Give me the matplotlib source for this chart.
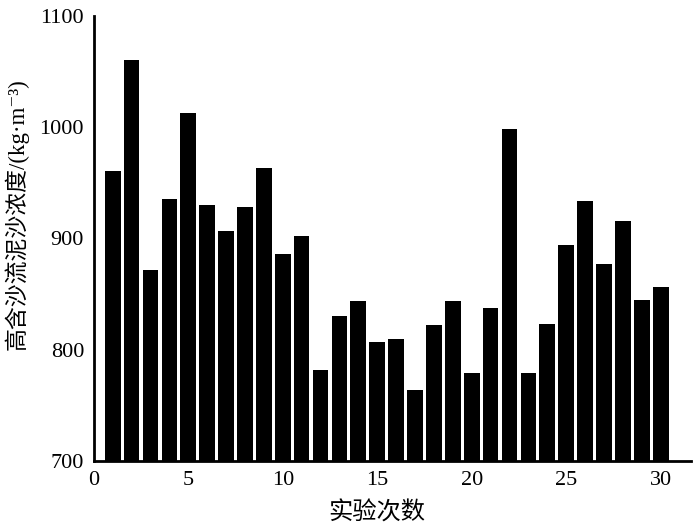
import matplotlib
matplotlib.use("Agg")
import matplotlib.pyplot as plt

runs = list(range(1, 31))
concentration = [961, 1060, 872, 935, 1013, 930, 907, 928, 963, 886,
                 902, 782, 830, 844, 807, 810, 764, 822, 844, 779,
                 837, 998, 779, 823, 894, 934, 877, 916, 845, 856]
xticks = [0, 5, 10, 15, 20, 25, 30]
yticks = [700, 800, 900, 1000, 1100]

plt.rcParams['font.family'] = ['Liberation Serif', 'Noto Sans CJK SC', 'DejaVu Serif']

fig = plt.figure(figsize=(7, 5.28), dpi=100)
ax = fig.add_axes([0.134, 0.127, 0.853, 0.843])
ax.bar(runs, concentration, width=0.83, color='black', bottom=0)
ax.set_xlim(0, 31.6)
ax.set_ylim(700, 1100)
ax.set_xticks(xticks)
ax.set_yticks(yticks)
ax.tick_params(length=0, labelsize=16, pad=7)
for s in ['top', 'right']:
    ax.spines[s].set_visible(False)
for s in ['left', 'bottom']:
    ax.spines[s].set_linewidth(2)
ax.set_xlabel('实验次数', fontsize=17.5)
ax.xaxis.set_label_coords(0.474, -0.092)
ax.set_ylabel('高含沙流泥沙浓度/(kg·m⁻³)', fontsize=16.5)
ax.yaxis.set_label_coords(-0.109, 0.555)
fig.savefig('out.png', dpi=100)
